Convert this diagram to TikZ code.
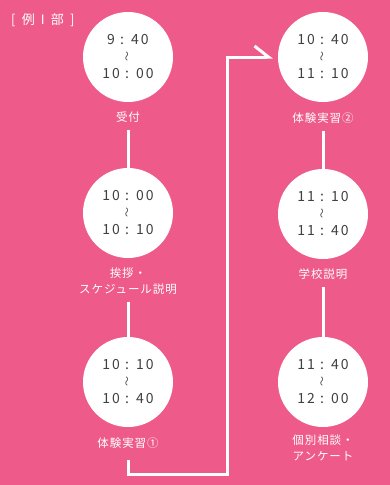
\documentclass[tikz,border=0pt]{standalone}
\usepackage{fontspec}
\setmainfont[LetterSpace=8]{Noto Sans CJK JP}
\newfontfamily\timefont[LetterSpace=15]{Noto Sans CJK JP}
\newfontfamily\partfont[LetterSpace=25]{Noto Sans CJK JP}
\usetikzlibrary{arrows.meta}
\definecolor{bgpink}{HTML}{EE5B8A}
\definecolor{timegray}{HTML}{404040}
\newcommand{\wave}{\rotatebox{90}{\fontsize{10}{10}\selectfont 〜}}

\begin{document}
\begin{tikzpicture}[x=1pt,y=-1pt,
    slot/.style={circle,fill=white,minimum size=90pt,inner sep=0pt,align=center,
      text=timegray,font=\timefont\fontsize{14}{17}\selectfont},
    caption/.style={text=white,align=center,inner sep=0pt,
      font=\fontsize{11.5}{16}\selectfont},
    link/.style={draw=white,line width=3pt}]
  \fill[bgpink] (0,0) rectangle (390,485);
  \node[caption,anchor=west,font=\partfont\fontsize{13}{16}\selectfont] (part) at (11,20) {[ 例 I 部 ]};
  \path
    (128,57) node[slot] (t1) {9 : 40\\\wave\\10 : 00}
    (128,117) node[caption] (c1) {受付}
    (128,213) node[slot] (t2) {10 : 00\\\wave\\10 : 10}
    (128,281) node[caption] (c2) {挨拶・\\スケジュール説明}
    (128,382) node[slot] (t3) {10 : 10\\\wave\\10 : 40}
    (128,443) node[caption] (c3) {体験実習①}
    (323,57) node[slot] (t4) {10 : 40\\\wave\\11 : 10}
    (323,118) node[caption] (c4) {体験実習②}
    (323,214) node[slot] (t5) {11 : 10\\\wave\\11 : 40}
    (323,274) node[caption] (c5) {学校説明}
    (323,382) node[slot] (t6) {11 : 40\\\wave\\12 : 00}
    (323,448) node[caption] (c6) {個別相談・\\アンケート};
  \coordinate (turn) at (227,474);
  \begin{scope}[link]
    \draw[shorten <=7pt] (c1) to (t2);
    \draw[shorten <=7pt] (c2) to (t3);
    \draw[shorten <=7pt] (c4) to (t5);
    \draw[shorten <=7pt] (c5) to (t6);
    \draw[shorten <=11pt,shorten >=5pt,-{Straight Barb[left,length=14pt,width=22pt]}]
      (c3) |- (turn) |- (t4);
  \end{scope}
\end{tikzpicture}
\end{document}
